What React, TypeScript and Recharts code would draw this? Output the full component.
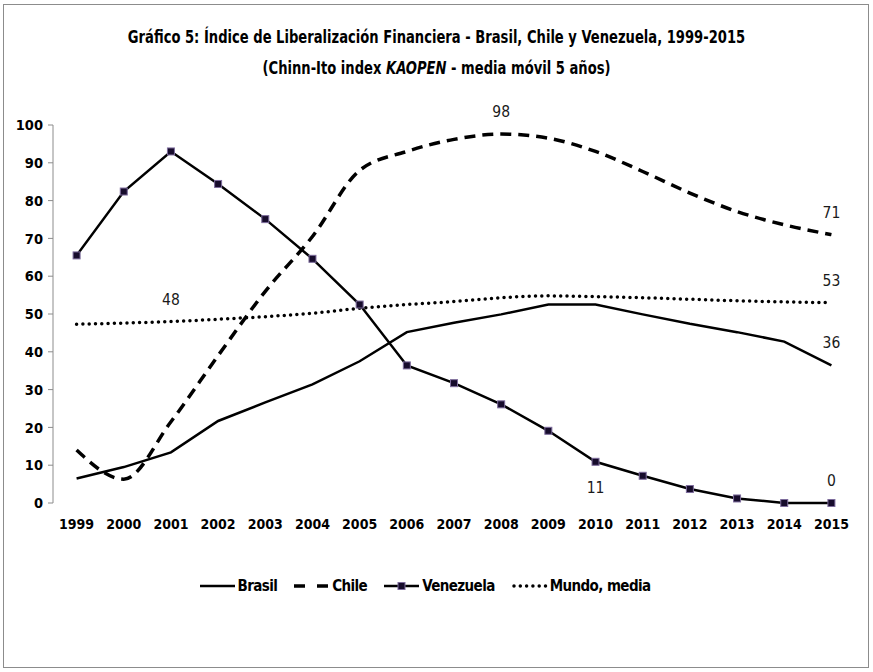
import { CartesianGrid, Legend, Line, LineChart, XAxis, YAxis } from 'recharts'

const years = [1999, 2000, 2001, 2002, 2003, 2004, 2005, 2006, 2007, 2008, 2009, 2010, 2011, 2012, 2013, 2014, 2015]
const seriesNames = ['Brasil', 'Chile', 'Venezuela', 'Mundo, media']
const brasil = [6.5, 9.5, 13.4, 21.7, 26.6, 31.4, 37.5, 45.2, 47.7, 49.9, 52.5, 52.5, 49.9, 47.4, 45.2, 42.7, 36.4]
const chile = [14, 6.3, 21.5, 39, 56, 70.5, 88, 93, 96.2, 97.6, 96.5, 93, 87.7, 82, 77.1, 73.6, 71]
const venezuela = [65.5, 82.4, 93, 84.4, 75.1, 64.6, 52.5, 36.4, 31.7, 26.1, 19.1, 10.9, 7.2, 3.7, 1.2, 0, 0]
const mundo = [47.3, 47.6, 48, 48.6, 49.3, 50.2, 51.5, 52.5, 53.3, 54.3, 54.8, 54.6, 54.3, 53.9, 53.5, 53.2, 53]
const yTicks = [0, 10, 20, 30, 40, 50, 60, 70, 80, 90, 100]

// years that carry a value label, per series
const brasilLabels = [2015]
const chileLabels = [2008, 2015]
const venezuelaTop = [2015]
const venezuelaBottom = [2010]
const mundoLabels = [2001, 2015]

const data = years.map((year, i) => ({
  year,
  Brasil: brasil[i],
  Chile: chile[i],
  Venezuela: venezuela[i],
  'Mundo, media': mundo[i],
}))

const bounds = [...years.map((y) => y - 0.5), years[years.length - 1] + 0.5]

const FONT = "'DejaVu Sans Condensed', 'Liberation Sans', sans-serif"
const GREY = '#8c8c8c'

function makeLabel(showAt: number[], below = false) {
  return (props: any) => {
    const { x, y, value, index } = props
    if (!showAt.includes(years[index])) return null
    return (
      <text
        key={index}
        x={x}
        y={below ? y + 26 : y - 22}
        textAnchor="middle"
        dominantBaseline="central"
        fontFamily={FONT}
        fontSize={15.5}
        fill="#1a1a1a"
      >
        {Math.round(value)}
      </text>
    )
  }
}

function SquareDot(props: any) {
  const { cx, cy, index } = props
  if (cx == null || cy == null) return null
  return <rect key={index} x={cx - 3.5} y={cy - 3.5} width={7} height={7} fill="#170c2c" stroke="#7d6c9c" strokeWidth={1} />
}

function venezuelaLabel(props: any) {
  const { index } = props
  if (venezuelaBottom.includes(years[index])) return makeLabel(venezuelaBottom, true)(props)
  return makeLabel(venezuelaTop)(props)
}

const legendIcons: Record<string, any> = {
  Brasil: <line x1={0} y1={6} x2={35} y2={6} stroke="#000" strokeWidth={2.5} />,
  Chile: <line x1={0} y1={6} x2={35} y2={6} stroke="#000" strokeWidth={3.5} strokeDasharray="11 12" />,
  Venezuela: (
    <g>
      <line x1={0} y1={6} x2={35} y2={6} stroke="#000" strokeWidth={2.5} />
      <rect x={14} y={2.5} width={7} height={7} fill="#170c2c" stroke="#7d6c9c" />
    </g>
  ),
  'Mundo, media': (
    <line x1={2} y1={6} x2={35} y2={6} stroke="#000" strokeWidth={3.5} strokeDasharray="0 6.3" strokeLinecap="round" />
  ),
}

function LegendContent(props: any) {
  const items = [...(props.payload ?? [])].sort(
    (a: any, b: any) => seriesNames.indexOf(a.value) - seriesNames.indexOf(b.value),
  )
  return (
    <div style={{ height: 40, display: 'flex', justifyContent: 'center', alignItems: 'center', paddingLeft: 12 }}>
      {items.map((it: any) => (
        <div key={it.value} style={{ display: 'flex', alignItems: 'center', marginRight: 17 }}>
          <svg width={36} height={12} style={{ marginRight: 2 }}>
            {legendIcons[it.value]}
          </svg>
          <span
            style={{
              fontFamily: FONT,
              fontWeight: 700,
              fontSize: 15,
              color: '#000',
              display: 'inline-block',
              letterSpacing: -0.6,
            }}
          >
            {it.value}
          </span>
        </div>
      ))}
    </div>
  )
}

export default function App() {
  return (
    <div style={{ position: 'absolute', left: 0, top: 0, width: 873, height: 672, background: '#fff' }}>
      <div
        style={{
          position: 'absolute',
          left: 3,
          top: 4,
          width: 866,
          height: 664,
          border: `1px solid ${GREY}`,
          boxSizing: 'border-box',
        }}
      />
      <div
        style={{
          position: 'absolute',
          left: 0,
          top: 21,
          width: 873,
          textAlign: 'center',
          fontFamily: FONT,
          fontWeight: 700,
          fontSize: 18,
          lineHeight: '31px',
          color: '#000',
        }}
      >
        <div style={{ transform: 'scaleX(0.81)' }}>
          Gráfico 5: Índice de Liberalización Financiera - Brasil, Chile y Venezuela, 1999-2015
        </div>
        <div style={{ transform: 'scaleX(0.81)' }}>
          (Chinn-Ito index <i>KAOPEN</i> - media móvil 5 años)
        </div>
      </div>
      <div style={{ position: 'absolute', left: 0, top: 0 }}>
        <LineChart width={873} height={606} data={data} margin={{ top: 125, right: 18, bottom: 0, left: 0 }}>
          <CartesianGrid stroke="none" />
          <XAxis
            xAxisId="marks"
            dataKey="year"
            type="number"
            domain={[bounds[0], bounds[bounds.length - 1]]}
            ticks={bounds}
            tick={false}
            height={0}
            tickSize={6}
            stroke={GREY}
            axisLine={{ stroke: GREY }}
            tickLine={{ stroke: GREY }}
          />
          <XAxis
            dataKey="year"
            type="number"
            domain={[bounds[0], bounds[bounds.length - 1]]}
            ticks={years}
            interval={0}
            height={63}
            axisLine={false}
            tickLine={false}
            tickMargin={10}
            tick={{ fontFamily: FONT, fontWeight: 700, fontSize: 14, fill: '#000' }}
          />
          <YAxis
            domain={[0, 100]}
            ticks={yTicks}
            width={53}
            interval={0}
            tickSize={5}
            tickMargin={5}
            axisLine={{ stroke: GREY }}
            tickLine={{ stroke: GREY }}
            tick={{ fontFamily: FONT, fontWeight: 700, fontSize: 14.5, fill: '#000' }}
          />
          <Legend verticalAlign="bottom" content={<LegendContent />} />
          <Line
            dataKey="Brasil"
            type="linear"
            stroke="#000"
            strokeWidth={2.5}
            dot={false}
            label={makeLabel(brasilLabels)}
            isAnimationActive={false}
          />
          <Line
            dataKey="Chile"
            type="monotone"
            stroke="#000"
            strokeWidth={3.5}
            strokeDasharray="11 7"
            dot={false}
            label={makeLabel(chileLabels)}
            isAnimationActive={false}
          />
          <Line
            dataKey="Venezuela"
            type="linear"
            stroke="#000"
            strokeWidth={2.5}
            dot={<SquareDot />}
            label={venezuelaLabel}
            isAnimationActive={false}
          />
          <Line
            dataKey="Mundo, media"
            type="monotone"
            stroke="#000"
            strokeWidth={3.5}
            strokeDasharray="0 6.3"
            strokeLinecap="round"
            dot={false}
            label={makeLabel(mundoLabels)}
            isAnimationActive={false}
          />
        </LineChart>
      </div>
    </div>
  )
}
